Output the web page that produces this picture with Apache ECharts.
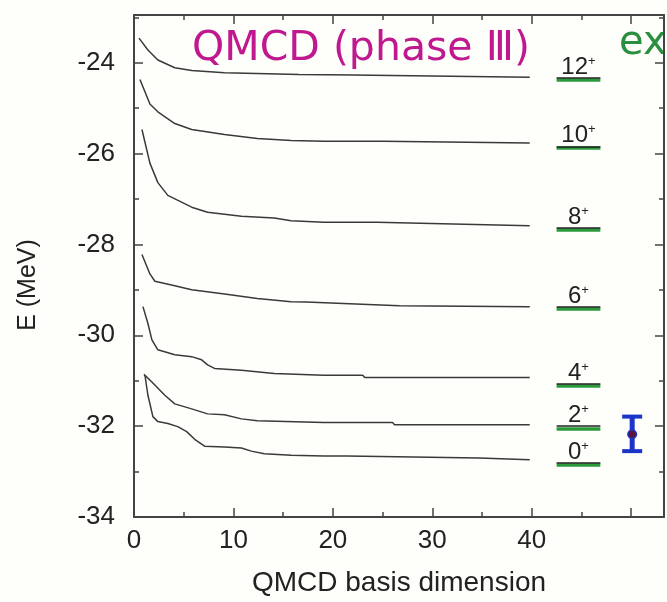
<!DOCTYPE html>
<html><head><meta charset="utf-8">
<script src="https://cdn.jsdelivr.net/npm/echarts@6/dist/echarts.min.js"></script>
<style>html,body{margin:0;padding:0;background:#fefefa;}#c{width:667px;height:602px;}</style>
</head><body><div id="c"></div>
<script>
// ---- data ----
const xTickLabels = [0, 10, 20, 30, 40];
const yTickLabels = [-34, -32, -30, -28, -26, -24];

const curve12 = [[0.5,-23.46],[1.4,-23.72],[2.4,-23.94],[4.1,-24.11],[5.8,-24.17],[9.1,-24.22],[16.6,-24.26],[22.0,-24.27],[22.2,-24.30],[39.8,-24.32]];
const curve10 = [[0.6,-24.37],[1.6,-24.91],[2.4,-25.08],[4.1,-25.34],[5.8,-25.47],[9.1,-25.58],[12.4,-25.67],[15.8,-25.71],[19.1,-25.73],[25.0,-25.73],[25.2,-25.77],[39.8,-25.77]];
const curve8  = [[0.8,-25.47],[1.6,-26.21],[2.4,-26.64],[3.4,-26.92],[5.8,-27.18],[7.4,-27.29],[10.8,-27.38],[14.1,-27.42],[15.8,-27.48],[19.1,-27.51],[24.4,-27.51],[24.6,-27.55],[39.8,-27.59]];
const curve6  = [[0.8,-28.22],[1.6,-28.65],[2.1,-28.81],[4.1,-28.91],[5.8,-29.00],[9.1,-29.09],[12.4,-29.19],[15.8,-29.26],[17.3,-29.27],[17.5,-29.31],[26.7,-29.35],[39.8,-29.37]];
const curve4  = [[0.9,-29.37],[1.4,-29.74],[1.8,-30.10],[2.4,-30.32],[4.1,-30.43],[5.8,-30.47],[6.8,-30.54],[7.4,-30.65],[8.1,-30.73],[10.8,-30.77],[14.1,-30.84],[19.1,-30.88],[23.0,-30.88],[23.2,-30.93],[39.8,-30.93]];
const curve2  = [[1.0,-30.86],[1.8,-31.03],[3.1,-31.32],[4.1,-31.51],[5.8,-31.62],[7.4,-31.73],[9.1,-31.75],[10.8,-31.84],[12.4,-31.88],[19.1,-31.92],[26.0,-31.92],[26.2,-31.97],[39.8,-31.97]];
const curve0  = [[1.1,-30.88],[1.4,-31.32],[1.9,-31.79],[2.4,-31.90],[3.4,-31.94],[4.4,-32.01],[5.3,-32.12],[6.1,-32.29],[7.1,-32.44],[9.1,-32.46],[10.8,-32.48],[11.8,-32.55],[13.1,-32.61],[15.8,-32.64],[19.1,-32.66],[21.4,-32.66],[21.6,-32.70],[34.7,-32.70],[34.9,-32.74],[39.8,-32.74]];

const levelNames    = ['12', '10', '8', '6', '4', '2', '0'];
const levelEnergies = [-24.33, -25.84, -27.64, -29.37, -31.06, -32.00, -32.81];
const levelGreen    = [-24.37, -25.88, -27.68, -29.41, -31.10, -32.05, -32.85];
const levelXStart = 42.5, levelXEnd = 46.9;

const expX = [50.1];
const expE = [-32.18];
const expLow = [-32.55];
const expHigh = [-31.79];
// -------------------------------------

const FONT = 'Liberation Sans';
const AX = '#444';
const chart = echarts.init(document.getElementById('c'), null, {renderer: 'canvas'});

function curveSeries(data) {
  return {type: 'line', data: data, showSymbol: false, smooth: false, silent: true,
    lineStyle: {color: '#3a3a3a', width: 1.5}, xAxisIndex: 0, yAxisIndex: 0, z: 3};
}
const axisBase = {
  axisLine: {show: true, onZero: false, lineStyle: {color: AX, width: 2}},
  axisTick: {show: true, inside: true, length: 9, lineStyle: {color: AX, width: 1.5}},
  minorTick: {show: true, splitNumber: 2, length: 5, lineStyle: {color: AX, width: 1.5}},
  splitLine: {show: false}, minorSplitLine: {show: false}
};

const expData = expX.map((x, i) => [x, expE[i], expLow[i], expHigh[i]]);

chart.setOption({
  backgroundColor: '#fefefa',
  animation: false,
  grid: {left: 134, right: 1, top: 15, bottom: 75, containLabel: false},
  xAxis: [
    Object.assign({type: 'value', min: 0, max: 53.3, interval: 10, position: 'bottom',
      axisLabel: {formatter: v => xTickLabels.includes(v) ? String(v) : '', fontSize: 26, fontFamily: FONT, color: '#222', margin: 11},
      name: 'QMCD basis dimension', nameLocation: 'middle', nameGap: 52,
      nameTextStyle: {fontSize: 28, fontFamily: FONT, color: '#222'}}, axisBase),
    Object.assign({type: 'value', min: 0, max: 53.3, interval: 10, position: 'top', axisLabel: {show: false}}, axisBase)
  ],
  yAxis: [
    Object.assign({type: 'value', min: -34, max: -22.95, interval: 2, position: 'left',
      axisLabel: {formatter: v => yTickLabels.includes(v) ? String(v) : '', fontSize: 26, fontFamily: FONT, color: '#222', margin: 19}}, axisBase),
    Object.assign({type: 'value', min: -34, max: -22.95, interval: 2, position: 'right', axisLabel: {show: false}}, axisBase)
  ],
  graphic: [
    {type: 'text', x: 192, y: 49, silent: true,
      style: {text: 'QMCD (phase Ⅲ)', fontSize: 41, fontFamily: 'DejaVu Sans', fill: '#c0188f', align: 'left', verticalAlign: 'middle'}},
    {type: 'text', x: 619, y: 44, silent: true,
      style: {text: 'ex', fontSize: 40, fontFamily: 'DejaVu Sans', fill: '#2a9040', align: 'left', verticalAlign: 'middle'}},
    {type: 'text', x: 28, y: 285, rotation: Math.PI / 2, silent: true,
      style: {text: 'E (MeV)', fontSize: 25, fontFamily: FONT, fill: '#222', align: 'center', verticalAlign: 'middle'}}
  ],
  series: [
    curveSeries(curve12), curveSeries(curve10), curveSeries(curve8), curveSeries(curve6),
    curveSeries(curve4), curveSeries(curve2), curveSeries(curve0),
    {type: 'line', data: [], silent: true, z: 4,
      markLine: {silent: true, symbol: ['none', 'none'], animation: false,
        lineStyle: {color: '#2a9a3a', width: 3.5, type: 'solid'},
        label: {show: false},
        data: levelGreen.map(e => [{coord: [levelXStart, e]}, {coord: [levelXEnd, e]}])}},
    {type: 'line', data: [], silent: true, z: 5,
      markLine: {silent: true, symbol: ['none', 'none'], animation: false,
        lineStyle: {color: '#222', width: 1.5, type: 'solid'},
        label: {show: true, position: 'insideMiddleTop', distance: -2,
          formatter: p => '{n|' + levelNames[p.dataIndex] + '}{s|+}',
          rich: {n: {fontSize: 24, fontFamily: FONT, color: '#222'},
                 s: {fontSize: 13, fontFamily: FONT, color: '#222', padding: [0, 0, 12, 0]}}},
        data: levelEnergies.map(e => [{coord: [levelXStart, e]}, {coord: [levelXEnd, e]}])}},
    {type: 'custom', data: expData, silent: true, z: 6,
      renderItem: function (params, api) {
        const c = api.coord([api.value(0), api.value(1)]);
        const lo = api.coord([api.value(0), api.value(2)]);
        const hi = api.coord([api.value(0), api.value(3)]);
        const hw = 10, col = '#1c35c8';
        return {type: 'group', children: [
          {type: 'line', shape: {x1: c[0], y1: hi[1], x2: c[0], y2: lo[1]}, style: {stroke: col, lineWidth: 5}},
          {type: 'line', shape: {x1: c[0] - hw, y1: hi[1], x2: c[0] + hw, y2: hi[1]}, style: {stroke: col, lineWidth: 4}},
          {type: 'line', shape: {x1: c[0] - hw, y1: lo[1], x2: c[0] + hw, y2: lo[1]}, style: {stroke: col, lineWidth: 4}},
          {type: 'circle', shape: {cx: c[0], cy: c[1], r: 5}, style: {fill: col}},
          {type: 'circle', shape: {cx: c[0], cy: c[1], r: 3.5}, style: {fill: '#5a1538'}}
        ]};
      }}
  ]
});
</script></body></html>
